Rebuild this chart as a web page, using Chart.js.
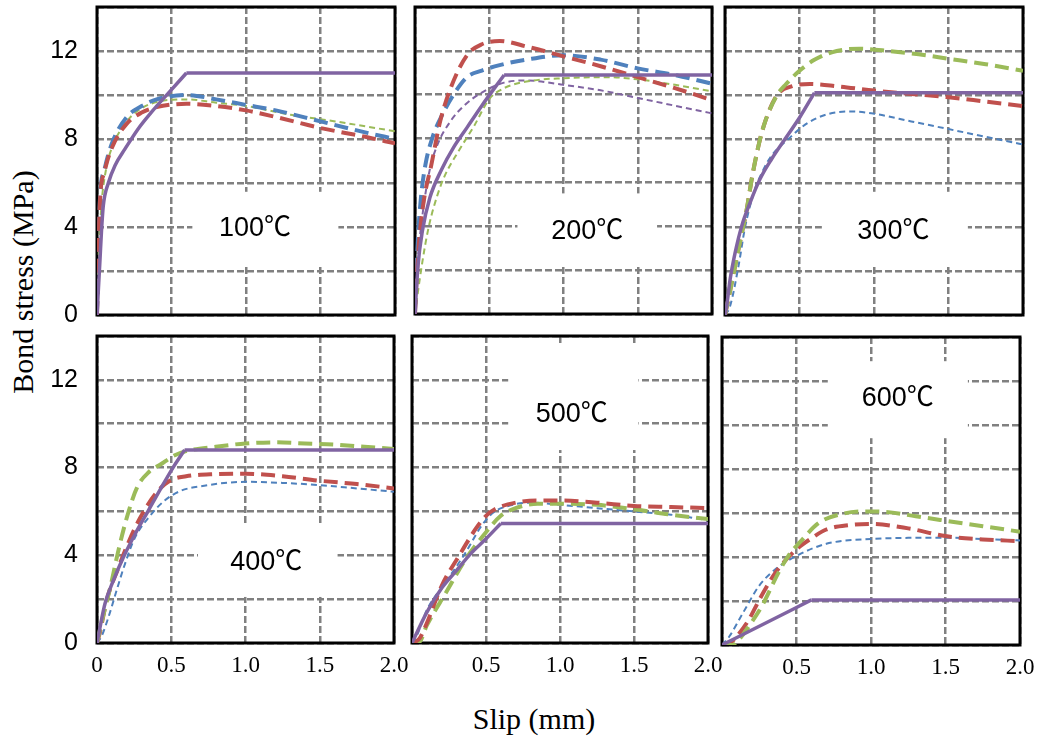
<!DOCTYPE html>
<html>
<head>
<meta charset="utf-8">
<script src="https://cdn.jsdelivr.net/npm/chart.js@4.4.0/dist/chart.umd.min.js"></script>
<style>
    body { margin: 0; background: #fff; width: 1037px; height: 738px; position: relative; overflow: hidden; }
    canvas { position: absolute; }
    #ytitle { position: absolute; left: 23px; top: 282px; transform: translate(-50%, -50%) rotate(-90deg); font: 30px "Liberation Serif", serif; white-space: nowrap; }
    #xtitle { position: absolute; left: 534px; top: 719px; transform: translate(-50%, -50%); font: 30px "Liberation Serif", serif; white-space: nowrap; }
</style>
</head>
<body>
<div id="ytitle">Bond stress (MPa)</div>
<div id="xtitle">Slip (mm)</div>
<script>
// slip (mm), bond stress (MPa) pairs
const s100_model = [[0,0],[0.02,2.5],[0.03,3.8],[0.042,4.95],[0.076,6.0],[0.121,6.8],[0.188,7.55],[0.277,8.47],[0.367,9.23],[0.497,10.22],[0.6,11.0],[2.0,11.0]];
const s100_red   = [[0,0],[0.01,3],[0.02,5.2],[0.05,6.5],[0.1,7.6],[0.2,8.7],[0.3,9.2],[0.4,9.45],[0.6,9.6],[0.8,9.5],[1.0,9.3],[1.2,9.0],[1.5,8.5],[1.8,8.1],[2.0,7.8]];
const s100_blue  = [[0,0],[0.01,3],[0.02,5.3],[0.05,6.6],[0.1,7.8],[0.2,9.0],[0.3,9.5],[0.4,9.8],[0.6,10.0],[0.8,9.8],[1.0,9.55],[1.2,9.3],[1.5,8.8],[1.8,8.3],[2.0,8.0]];
const s100_green = [[0,0],[0.01,2.5],[0.03,5.0],[0.06,6.6],[0.1,7.6],[0.2,8.8],[0.3,9.4],[0.45,9.75],[0.6,9.8],[0.8,9.65],[1.0,9.5],[1.3,9.1],[1.6,8.8],[2.0,8.35]];

const s200_model  = [[0,0],[0.02,2.2],[0.05,3.8],[0.1,5.3],[0.18,6.6],[0.26,7.6],[0.35,8.5],[0.45,9.5],[0.6,10.9],[2.0,10.9]];
const s200_red    = [[0,0],[0.01,1.5],[0.03,3.5],[0.06,5.2],[0.11,6.8],[0.17,8.8],[0.24,10.3],[0.35,11.8],[0.45,12.3],[0.57,12.45],[0.75,12.2],[1.0,11.75],[1.25,11.3],[1.5,10.8],[1.75,10.3],[2.0,9.75]];
const s200_blue   = [[0,0],[0.01,2],[0.02,3.5],[0.04,5.3],[0.07,6.8],[0.12,8.1],[0.17,8.9],[0.25,9.9],[0.35,10.8],[0.45,11.1],[0.57,11.35],[0.75,11.6],[1.0,11.8],[1.25,11.6],[1.5,11.2],[1.75,10.9],[2.0,10.5]];
const s200_green  = [[0,0],[0.03,1.5],[0.07,3.2],[0.1,4.2],[0.15,5.4],[0.2,6.3],[0.3,7.5],[0.4,8.6],[0.5,9.8],[0.6,10.3],[0.8,10.65],[1.0,10.75],[1.3,10.8],[1.5,10.7],[1.75,10.45],[2.0,10.15]];
const s200_purple = [[0,0],[0.02,2.5],[0.05,4.5],[0.1,6.6],[0.15,7.7],[0.24,8.8],[0.33,9.5],[0.45,10.1],[0.6,10.55],[0.75,10.65],[1.0,10.45],[1.25,10.2],[1.5,9.85],[1.75,9.5],[2.0,9.15]];

const s300_model = [[0,0],[0.011,0.4],[0.034,1.6],[0.067,2.8],[0.112,4.04],[0.168,5.1],[0.235,6.18],[0.313,7.09],[0.403,8.0],[0.503,9.0],[0.6,10.1],[2.0,10.1]];
const s300_green = [[0,0],[0.025,0.8],[0.058,1.9],[0.112,3.7],[0.146,4.8],[0.18,6.2],[0.225,7.7],[0.27,8.8],[0.35,10.0],[0.41,10.5],[0.5,11.1],[0.6,11.6],[0.75,12.0],[0.9,12.1],[1.1,12.0],[1.3,11.85],[1.5,11.65],[1.75,11.4],[2.0,11.1]];
const s300_red   = [[0,0],[0.025,0.8],[0.058,1.9],[0.112,3.7],[0.146,4.8],[0.18,6.2],[0.225,7.7],[0.27,8.8],[0.35,10.0],[0.45,10.4],[0.57,10.5],[0.75,10.4],[1.0,10.2],[1.25,10.05],[1.5,9.9],[1.75,9.7],[2.0,9.5]];
const s300_blue  = [[0,0],[0.034,0.4],[0.09,2.2],[0.135,4.0],[0.2,5.7],[0.25,6.5],[0.313,7.25],[0.425,8.0],[0.56,8.75],[0.7,9.15],[0.86,9.25],[1.0,9.15],[1.25,8.8],[1.5,8.45],[1.75,8.1],[2.0,7.75]];

const s400_model = [[0,0],[0.02,0.7],[0.054,1.8],[0.11,2.85],[0.177,3.9],[0.256,4.96],[0.345,6.03],[0.434,7.1],[0.512,8.0],[0.59,8.8],[2.0,8.8]];
const s400_green = [[0,0],[0.04,1.2],[0.09,2.55],[0.14,4.1],[0.2,5.7],[0.27,7.1],[0.35,7.8],[0.43,8.15],[0.52,8.55],[0.6,8.75],[0.8,8.95],[1.0,9.1],[1.2,9.15],[1.4,9.1],[1.6,9.05],[1.8,8.95],[2.0,8.85]];
const s400_red   = [[0,0],[0.02,0.5],[0.067,2.0],[0.145,3.45],[0.2,4.4],[0.29,5.7],[0.4,6.85],[0.49,7.4],[0.6,7.6],[0.8,7.7],[1.0,7.72],[1.25,7.6],[1.5,7.4],[1.75,7.25],[2.0,7.05]];
const s400_blue  = [[0,0],[0.03,0.3],[0.076,1.15],[0.132,2.4],[0.188,3.6],[0.255,4.8],[0.345,5.7],[0.456,6.5],[0.568,6.95],[0.7,7.15],[1.0,7.35],[1.25,7.3],[1.5,7.2],[1.75,7.05],[2.0,6.9]];

const s500_model = [[0,0],[0.1,1.4],[0.2,2.5],[0.3,3.3],[0.4,4.1],[0.5,4.75],[0.6,5.45],[2.0,5.45]];
const s500_red   = [[0,0],[0.05,0.2],[0.1,0.9],[0.2,2.6],[0.32,4.0],[0.43,5.2],[0.5,5.8],[0.56,6.1],[0.7,6.4],[0.85,6.5],[1.0,6.5],[1.25,6.4],[1.5,6.25],[1.75,6.2],[2.0,6.15]];
const s500_green = [[0,0],[0.05,0.05],[0.1,0.8],[0.23,2.3],[0.36,3.8],[0.5,5.05],[0.6,5.8],[0.7,6.15],[0.85,6.35],[1.0,6.35],[1.25,6.3],[1.5,6.1],[1.75,5.85],[2.0,5.65]];
const s500_blue  = [[0,0],[0.03,0.3],[0.1,1.5],[0.23,2.8],[0.36,4.1],[0.47,5.35],[0.55,5.95],[0.65,6.25],[0.8,6.4],[1.0,6.3],[1.25,6.15],[1.5,6.0],[1.75,5.85],[2.0,5.6]];

const s600_model = [[0,0],[0.3,1.02],[0.6,2.05],[2.0,2.05]];
const s600_green = [[0,0],[0.07,0.0],[0.12,0.3],[0.18,0.85],[0.27,1.8],[0.38,3.3],[0.45,4.1],[0.52,4.65],[0.65,5.55],[0.8,5.95],[0.95,6.07],[1.1,6.05],[1.3,5.85],[1.5,5.65],[1.75,5.4],[2.0,5.15]];
const s600_red   = [[0,0],[0.05,0.07],[0.1,0.4],[0.18,1.15],[0.25,2.05],[0.36,3.3],[0.5,4.35],[0.6,4.85],[0.7,5.25],[0.85,5.45],[1.0,5.5],[1.25,5.3],[1.5,4.95],[1.75,4.8],[2.0,4.72]];
const s600_blue  = [[0,0],[0.05,0.4],[0.14,1.45],[0.25,2.7],[0.36,3.45],[0.5,4.05],[0.7,4.6],[1.0,4.82],[1.25,4.87],[1.5,4.88],[1.75,4.82],[2.0,4.75]];

const xTickValues = [0, 0.5, 1.0, 1.5, 2.0];
const yTickLabels = [0, 4, 8, 12];

const styles = {
    model:      { color: '#8064A2', width: 3.5, dash: [] },
    redThick:   { color: '#C0504D', width: 4, dash: [14, 7] },
    blueThick:  { color: '#4F81BD', width: 4, dash: [14, 7] },
    greenThick: { color: '#9BBB59', width: 4, dash: [14, 7] },
    greenThin:  { color: '#9BBB59', width: 2, dash: [6, 4] },
    blueThin:   { color: '#4F81BD', width: 2, dash: [6, 4] },
    purpleThin: { color: '#8064A2', width: 2, dash: [6, 4] }
};

// area = chart area in page pixels [left, top, right, bottom]
const panels = [
    { area: [97, 7, 395, 315], label: '100℃', labelAt: [1.06, 3.94], box: [0.64, 1.62, 2.2, 5.6], left: true, bottom: false, zero: false,
      series: [[s100_model, 'model'], [s100_red, 'redThick'], [s100_blue, 'blueThick'], [s100_green, 'greenThin']] },
    { area: [415, 7, 712, 314], label: '200℃', labelAt: [1.16, 3.75], box: [0.69, 1.63, 2.2, 5.5], left: false, bottom: false, zero: false,
      series: [[s200_model, 'model'], [s200_red, 'redThick'], [s200_blue, 'blueThick'], [s200_green, 'greenThin'], [s200_purple, 'purpleThin']] },
    { area: [725, 7, 1023, 315], label: '300℃', labelAt: [1.13, 3.8], box: [0.65, 1.63, 2.2, 5.6], left: false, bottom: false, zero: false,
      series: [[s300_model, 'model'], [s300_green, 'greenThick'], [s300_red, 'redThick'], [s300_blue, 'blueThin']] },
    { area: [97, 336, 394, 643], label: '400℃', labelAt: [1.14, 3.65], box: [0.68, 1.62, 2.1, 5.4], left: true, bottom: true, zero: true,
      series: [[s400_model, 'model'], [s400_green, 'greenThick'], [s400_red, 'redThick'], [s400_blue, 'blueThin']] },
    { area: [412, 336, 708, 643], label: '500℃', labelAt: [1.08, 10.4], box: [0.65, 1.53, 8.8, 13.6], left: false, bottom: true, zero: false,
      series: [[s500_model, 'model'], [s500_red, 'redThick'], [s500_green, 'greenThick'], [s500_blue, 'blueThin']] },
    { area: [722, 337, 1020, 645], label: '600℃', labelAt: [1.18, 11.2], box: [0.71, 1.65, 9.4, 12.9], left: false, bottom: true, zero: false,
      series: [[s600_model, 'model'], [s600_green, 'greenThick'], [s600_red, 'redThick'], [s600_blue, 'blueThin']] }
];

// white label box, temperature text and black frame, under the curves
function decor(p) {
    return {
        id: 'decor',
        beforeDatasetsDraw(chart) {
            const { ctx, chartArea: a, scales: { x, y } } = chart;
            ctx.save();
            const bx1 = x.getPixelForValue(p.box[0]), bx2 = x.getPixelForValue(p.box[1]);
            const by1 = y.getPixelForValue(p.box[3]), by2 = y.getPixelForValue(p.box[2]);
            ctx.fillStyle = '#fff';
            ctx.fillRect(bx1, by1, bx2 - bx1, by2 - by1);
            ctx.fillStyle = '#000';
            ctx.font = '27px "Liberation Sans", "Noto Sans CJK JP", sans-serif';
            ctx.textAlign = 'center';
            ctx.textBaseline = 'middle';
            ctx.fillText(p.label, x.getPixelForValue(p.labelAt[0]), y.getPixelForValue(p.labelAt[1]));
            ctx.strokeStyle = '#000';
            ctx.lineWidth = 3;
            ctx.strokeRect(a.left, a.top, a.right - a.left, a.bottom - a.top);
            ctx.restore();
        }
    };
}

function makeDataset(pts, st, smooth) {
    return {
        data: pts.map(([sx, sy]) => ({ x: sx, y: sy })),
        borderColor: st.color,
        borderWidth: st.width,
        borderDash: st.dash,
        pointRadius: 0,
        fill: false,
        cubicInterpolationMode: smooth ? 'monotone' : 'default',
        tension: 0
    };
}

const gridColor = '#808080';

panels.forEach(function (p) {
    const yW = p.left ? p.area[0] : 12;
    const xH = p.bottom ? 50 : 10;
    const padTop = 8, padRight = 22;
    const w = yW + (p.area[2] - p.area[0]) + padRight;
    const h = padTop + (p.area[3] - p.area[1]) + xH;

    const canvas = document.createElement('canvas');
    canvas.width = w;
    canvas.height = h;
    canvas.style.left = (p.area[0] - yW) + 'px';
    canvas.style.top = (p.area[1] - padTop) + 'px';
    canvas.style.width = w + 'px';
    canvas.style.height = h + 'px';
    document.body.appendChild(canvas);

    const datasets = [];
    p.series.forEach(function ([pts, key]) {
        const st = styles[key];
        if (key === 'model') {
            // model: smooth rise up to the peak, then a straight plateau (sharp corner)
            const k = pts.length - 2;
            datasets.push(makeDataset(pts.slice(0, k + 1), st, true));
            datasets.push(makeDataset(pts.slice(k), st, false));
        } else {
            datasets.push(makeDataset(pts, st, true));
        }
    });

    new Chart(canvas, {
        type: 'line',
        data: { datasets: datasets },
        options: {
            responsive: false,
            animation: false,
            devicePixelRatio: 1,
            layout: { padding: { top: padTop, right: padRight, left: 0, bottom: 0 }, autoPadding: false },
            plugins: { legend: { display: false }, tooltip: { enabled: false } },
            scales: {
                x: {
                    type: 'linear',
                    min: 0,
                    max: 2,
                    afterFit: s => { s.height = xH; s.paddingLeft = 0; s.paddingRight = 0; },
                    afterBuildTicks: s => { s.ticks = xTickValues.map(v => ({ value: v })); },
                    ticks: {
                        display: p.bottom,
                        autoSkip: false,
                        maxRotation: 0,
                        padding: 9,
                        color: '#000',
                        font: { family: '"Liberation Serif", serif', size: 23 },
                        callback: v => (v === 0 ? (p.zero ? '0' : '') : v.toFixed(1))
                    },
                    grid: { color: gridColor, lineWidth: 2.5, drawTicks: false },
                    border: { display: false, dash: [7, 3] }
                },
                y: {
                    min: 0,
                    max: 14,
                    afterFit: s => { s.width = yW; s.paddingTop = 0; s.paddingBottom = 0; },
                    ticks: {
                        display: p.left,
                        stepSize: 2,
                        padding: 19,
                        color: '#000',
                        font: { family: '"Liberation Sans Narrow", "Liberation Sans", sans-serif', size: 25 },
                        callback: v => (yTickLabels.includes(v) ? String(v) : '')
                    },
                    grid: { color: gridColor, lineWidth: 2.5, drawTicks: false },
                    border: { display: false, dash: [7, 3] }
                }
            }
        },
        plugins: [decor(p)]
    });
});
</script>
</body>
</html>
